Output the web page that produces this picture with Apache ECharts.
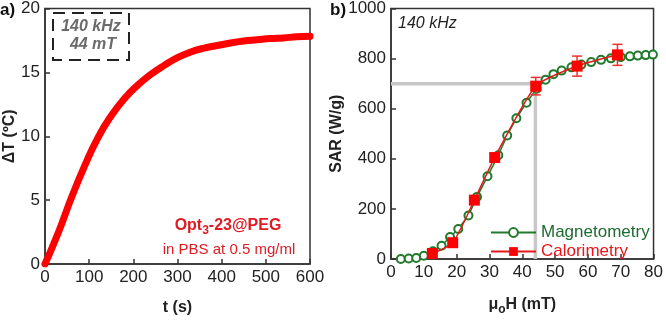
<!DOCTYPE html>
<html>
<head>
<meta charset="utf-8">
<script src="https://cdn.jsdelivr.net/npm/echarts@6/dist/echarts.min.js"></script>
<style>
  html, body { margin: 0; padding: 0; background: #fff; }
  #chart { width: 666px; height: 321px; }
</style>
</head>
<body>
<div id="chart"></div>
<script>
// panel a) heating curve
var tiempo = [0, 30, 60, 90, 120, 150, 180, 210, 240, 270, 300, 330, 360, 390, 420, 450, 480, 510, 540, 570, 600];
var deltaT = [0, 2.45, 5.2, 7.7, 9.9, 11.6, 12.95, 14.0, 14.85, 15.55, 16.15, 16.6, 16.9, 17.1, 17.3, 17.45, 17.55, 17.65, 17.7, 17.78, 17.82];

// panel b) SAR vs field
var campoMag = [3, 5.4, 7.7, 10, 12.8, 15.4, 18, 20.5, 23.6, 26.2, 29.4, 32.7, 35.4, 38.2, 41.3, 44.4, 47.1, 49.5, 52, 55, 58, 61, 64, 67, 70, 72.8, 75.2, 77.6, 79.8];
var sarMag = [0, 2, 4, 13, 31, 53, 88, 120, 174, 248, 330, 414, 493, 562, 624, 680, 716, 738, 752, 765, 776, 786, 795, 801, 806, 809, 812, 814, 816];
var campoCal = [12.6, 18.8, 25.4, 31.6, 44.1, 56.7, 69];
var sarCal = [22, 65, 235, 405, 690, 770, 815];
var errCal = [8, 10, 12, 15, 35, 40, 42];

var campoRef = 44;
var sarRef = 700;

var ticksA_x = [0, 600, 100];
var ticksA_y = [0, 20, 5];
var ticksB_x = [0, 80, 10];
var ticksB_y = [0, 1000, 200];

var fuente = "'Liberation Sans', Arial, sans-serif";
var verde = "#217a2c";
var rojo = "#ff0000";

function eje(rango, gridIndex, extra) {
  var base = {
    gridIndex: gridIndex,
    type: "value",
    min: rango[0],
    max: rango[1],
    interval: rango[2],
    splitLine: { show: false },
    axisLine: { show: true, lineStyle: { color: "#333", width: 1.5 } },
    axisTick: { show: true, inside: true, length: 5, lineStyle: { color: "#333", width: 1.5 } },
    axisLabel: { color: "#222", fontSize: 17, fontFamily: fuente, margin: 5, formatter: (v) => String(v) },
    nameLocation: "middle",
    nameTextStyle: { color: "#222", fontSize: 16, fontWeight: "bold", fontFamily: fuente },
  };
  return Object.assign(base, extra);
}

function leyenda(nombre, color, top) {
  return {
    orient: "horizontal",
    left: 490,
    top: top,
    padding: 0,
    itemWidth: 45,
    itemHeight: 11,
    textStyle: { fontSize: 17, fontFamily: fuente, lineHeight: 17, color: color },
    data: [nombre],
  };
}

var chart = echarts.init(document.getElementById("chart"), null, { renderer: "canvas" });

var option = {
  animation: false,
  backgroundColor: "#fff",
  grid: [
    { left: 45, right: 356, top: 7, bottom: 53, show: true, borderColor: "#333", borderWidth: 1.5 },
    { left: 391, right: 10, top: 7, bottom: 51, show: true, borderColor: "#333", borderWidth: 1.5 },
  ],
  xAxis: [
    eje(ticksA_x, 0, { name: "t (s)", nameGap: 36 }),
    eje(ticksB_x, 1, {
      name: "{n|μ}{s|o}{n|H (mT)}",
      nameGap: 35,
      nameTextStyle: {
        rich: {
          n: { fontSize: 16, fontWeight: "bold", fontFamily: fuente, color: "#222" },
          s: { fontSize: 12, fontWeight: "bold", fontFamily: fuente, color: "#222", verticalAlign: "bottom", padding: [10, 0, 0, 0] },
        },
      },
    }),
  ],
  yAxis: [
    eje(ticksA_y, 0, { name: "ΔT (ºC)", nameGap: 27 }),
    eje(ticksB_y, 1, { name: "SAR (W/g)", nameGap: 42 }),
  ],
  legend: [
    leyenda("Magnetometry", "#1e6b30", 224),
    leyenda("Calorimetry", "#e8161b", 243),
  ],
  series: [
    {
      type: "line",
      xAxisIndex: 0,
      yAxisIndex: 0,
      data: tiempo.map((t, i) => [t, deltaT[i]]),
      smooth: true,
      showSymbol: false,
      lineStyle: { color: rojo, width: 7, cap: "round" },
    },
    {
      name: "ref",
      type: "line",
      xAxisIndex: 1,
      yAxisIndex: 1,
      data: [[0, sarRef], [campoRef, sarRef], [campoRef, 0]],
      showSymbol: false,
      lineStyle: { color: "#c8c8c8", width: 3.5 },
      z: 1,
    },
    {
      name: "Magnetometry",
      type: "line",
      xAxisIndex: 1,
      yAxisIndex: 1,
      data: campoMag.map((c, i) => [c, sarMag[i]]),
      symbol: "emptyCircle",
      symbolSize: 8,
      itemStyle: { color: verde, borderWidth: 1.2 },
      lineStyle: { color: verde, width: 1.5 },
      z: 2,
    },
    {
      name: "errores",
      type: "custom",
      xAxisIndex: 1,
      yAxisIndex: 1,
      data: campoCal.map((c, i) => [c, sarCal[i], errCal[i]]),
      renderItem: function (params, api) {
        var arriba = api.coord([api.value(0), api.value(1) + api.value(2)]);
        var abajo = api.coord([api.value(0), api.value(1) - api.value(2)]);
        var est = { stroke: "#f03030", lineWidth: 1.5 };
        return {
          type: "group",
          children: [
            { type: "line", shape: { x1: arriba[0], y1: arriba[1], x2: abajo[0], y2: abajo[1] }, style: est },
            { type: "line", shape: { x1: arriba[0] - 5, y1: arriba[1], x2: arriba[0] + 5, y2: arriba[1] }, style: est },
            { type: "line", shape: { x1: abajo[0] - 5, y1: abajo[1], x2: abajo[0] + 5, y2: abajo[1] }, style: est },
          ],
        };
      },
      z: 3,
    },
    {
      name: "Calorimetry",
      type: "line",
      xAxisIndex: 1,
      yAxisIndex: 1,
      data: campoCal.map((c, i) => [c, sarCal[i]]),
      symbol: "rect",
      symbolSize: 11,
      smooth: 0.2,
      itemStyle: { color: rojo },
      lineStyle: { color: "#e21a1a", width: 1.5 },
      z: 4,
    },
  ],
  graphic: [
    { type: "text", left: 0, top: 2, style: { text: "a)", font: "bold 17px " + fuente, fill: "#111" } },
    { type: "text", left: 330, top: 2, style: { text: "b)", font: "bold 17px " + fuente, fill: "#111" } },
    {
      type: "rect",
      shape: { x: 53, y: 13, width: 76, height: 47 },
      style: { fill: "none", stroke: "#222", lineWidth: 2, lineDash: [12, 7] },
    },
    { type: "text", x: 91, y: 27, style: { text: "140 kHz", font: "italic bold 16px " + fuente, fill: "#6a6a6a", align: "center", verticalAlign: "middle" } },
    { type: "text", x: 93, y: 45, style: { text: "44 mT", font: "italic bold 16px " + fuente, fill: "#6a6a6a", align: "center", verticalAlign: "middle" } },
    {
      type: "text",
      x: 228,
      y: 226,
      style: {
        text: "{b|Opt}{s|3}{b|-23@PEG}",
        align: "center",
        verticalAlign: "middle",
        rich: {
          b: { font: "bold 16px " + fuente, fill: "#e01b24" },
          s: { font: "bold 12px " + fuente, fill: "#e01b24", padding: [9, 0, 0, 0] },
        },
      },
    },
    { type: "text", x: 229, y: 250, style: { text: "in PBS at 0.5 mg/ml", font: "15px " + fuente, fill: "#e01b24", align: "center", verticalAlign: "middle" } },
    { type: "text", x: 398, y: 24, style: { text: "140 kHz", font: "italic 16px " + fuente, fill: "#222", verticalAlign: "middle" } },
  ],
};

chart.setOption(option);
</script>
</body>
</html>
